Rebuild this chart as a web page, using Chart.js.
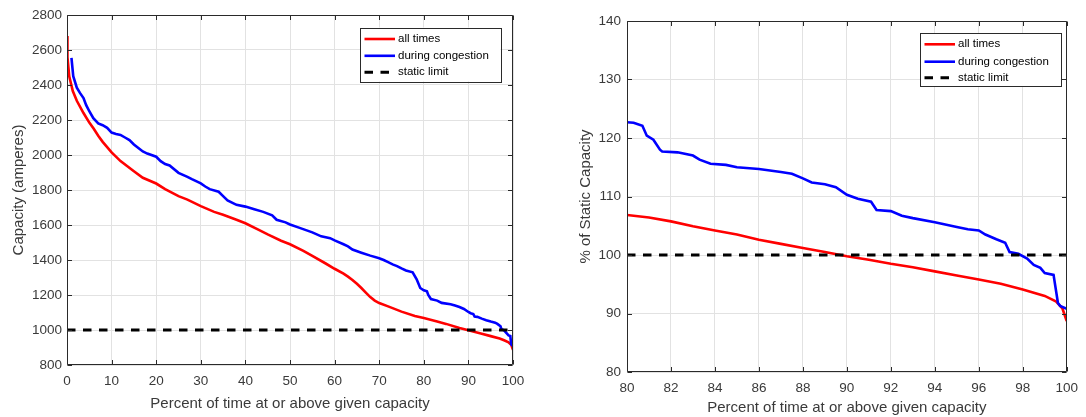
<!DOCTYPE html>
<html><head><meta charset="utf-8">
<script src="https://cdn.jsdelivr.net/npm/chart.js@4.4.1/dist/chart.umd.min.js"></script>
<style>
html,body{margin:0;padding:0;background:#fff;}
#wrap{position:relative;width:1086px;height:417px;overflow:hidden;background:#fff;}
canvas{position:absolute;top:0;}
</style></head><body>
<div id="wrap">
<canvas id="c1" width="543" height="417" style="left:0px"></canvas>
<canvas id="c2" width="543" height="417" style="left:543px"></canvas>
</div>
<script>
// ---------- DATA ----------
const seriesLabels = ['all times', 'during congestion', 'static limit'];

// Left chart: capacity in amperes vs percent of time
const leftAllX = [0,0.1,0.5,1.3,2.2,3.7,5,6,7,8,9,10,12,15,17,20,22,25,27,30,33,35,38,40,43,45,48,50,53,55,58,60,62,63,64,65,66,67,68,69,70,72,75,78,80,83,85,88,90,93,95,97,98,99,99.6,100];
const leftAllY = [2680,2560,2450,2365,2310,2240,2185,2150,2110,2075,2045,2015,1965,1907,1870,1837,1805,1765,1745,1708,1675,1658,1630,1610,1572,1546,1510,1490,1452,1423,1380,1350,1322,1305,1286,1264,1240,1214,1188,1168,1154,1135,1105,1080,1068,1049,1035,1012,998,979,965,951,941,930,915,887];
const leftCongX = [1.0,1.4,2.2,2.9,3.7,4.3,5,5.9,7,8,9,10,11,12,13,14,15,16,17,18,20,21,22,23,25,27,28,30,31,32,34,35,36,38,40,42,44,46,47,49,50,52,55,57,59,60,62,63,64,66,68,70,71,72,73,74,75,76,77.5,78.4,79.2,80,80.7,81,81.6,83,84,86,87,88,89,90,90.5,91.1,91.4,92,93,94,95,96,96.5,97.2,97.4,98,98.5,99,99.4,99.6,100];
const leftCongY = [2555,2450,2385,2355,2325,2285,2250,2210,2180,2170,2155,2128,2120,2115,2100,2085,2060,2040,2020,2008,1990,1965,1948,1940,1898,1875,1862,1838,1820,1805,1790,1765,1740,1715,1705,1690,1675,1655,1630,1615,1603,1585,1558,1535,1525,1512,1490,1478,1460,1442,1425,1410,1400,1388,1375,1365,1352,1340,1330,1290,1240,1227,1221,1200,1177,1168,1155,1147,1140,1131,1120,1103,1096,1091,1077,1075,1065,1056,1048,1042,1035,1021,1005,998,983,969,966,918,908];
const leftStaticX = [0, 100];
const leftStaticY = [1000, 1000];
const leftXTicks = [0,10,20,30,40,50,60,70,80,90,100];
const leftYTicks = [800,1000,1200,1400,1600,1800,2000,2200,2400,2600,2800];

// Right chart: % of static capacity, zoom on 80..100 %
const rightAllX = [80,81,82,83,84,85,86,87,88,89,90,91,92,93,94,95,96,97,98,99,99.5,99.8,100];
const rightAllY = [106.85,106.4,105.75,104.9,104.2,103.5,102.6,101.9,101.2,100.5,99.8,99.2,98.5,97.9,97.2,96.5,95.8,95.1,94.1,93.0,92.1,90.9,88.7];
const rightCongX = [80,80.3,80.7,80.9,81.2,81.5,81.6,82.3,83,83.3,83.8,84.5,85,86,87,87.5,88,88.4,89,89.5,90,90.5,91.1,91.35,92,92.5,93,94,95,95.5,96,96.3,96.8,97.2,97.4,97.8,98.2,98.5,98.8,99.0,99.4,99.6,99.7,100];
const rightCongY = [122.7,122.6,122.1,120.4,119.7,118.0,117.7,117.55,117.0,116.3,115.6,115.4,115.0,114.7,114.2,113.9,113.1,112.4,112.1,111.6,110.3,109.6,109.1,107.7,107.5,106.7,106.3,105.6,104.8,104.4,104.2,103.5,102.7,102.1,100.5,100.2,99.4,98.3,97.8,96.9,96.6,91.8,91.3,90.8];
const rightStaticX = [80, 100];
const rightStaticY = [100, 100];
const rightXTicks = [80,82,84,86,88,90,92,94,96,98,100];
const rightYTicks = [80,90,100,110,120,130,140];

const xTitle = 'Percent of time at or above given capacity';
const leftYTitle = 'Capacity (amperes)';
const rightYTitle = '% of Static Capacity';

// ---------- STYLE ----------
const FONT = "'Liberation Sans', Arial, Helvetica, sans-serif";
const TXT = '#3a3a3a';
const GRID = '#e2e2e2';
const AXIS = '#2a2a2a';
const DASH = [8.5, 7.5];

const pts = (xs, ys) => xs.map((x, i) => ({x, y: ys[i]}));

const framePlugin = {
  id: 'frame',
  afterDatasetsDraw(chart) {
    const {ctx, chartArea: a, scales: {x, y}} = chart;
    ctx.save();
    ctx.strokeStyle = AXIS;
    ctx.lineWidth = 1;
    const L = Math.round(a.left) + 0.5, R = Math.round(a.right) - 0.5;
    const T = Math.round(a.top) + 0.5, B = Math.round(a.bottom) - 0.5;
    ctx.beginPath();
    ctx.rect(L, T, R - L, B - T);
    const tl = 4.5;
    x.ticks.forEach(t => {
      const p = Math.round(x.getPixelForValue(t.value)) + 0.5;
      ctx.moveTo(p, B); ctx.lineTo(p, B - tl);
      ctx.moveTo(p, T); ctx.lineTo(p, T + tl);
    });
    y.ticks.forEach(t => {
      const p = Math.round(y.getPixelForValue(t.value)) + 0.5;
      ctx.moveTo(L, p); ctx.lineTo(L + tl, p);
      ctx.moveTo(R, p); ctx.lineTo(R - tl, p);
    });
    ctx.stroke();
    ctx.restore();
  }
};

const legendPlugin = {
  id: 'mlegend',
  afterDraw(chart, args, opts) {
    const {ctx} = chart;
    const b = opts.box;
    ctx.save();
    ctx.fillStyle = '#fff';
    ctx.fillRect(b.x, b.y, b.w, b.h);
    ctx.strokeStyle = AXIS;
    ctx.lineWidth = 1;
    ctx.strokeRect(Math.round(b.x) + 0.5, Math.round(b.y) + 0.5, Math.round(b.w), Math.round(b.h));
    ctx.font = opts.fontSize + 'px ' + FONT;
    ctx.textBaseline = 'middle';
    ctx.textAlign = 'left';
    chart.data.datasets.forEach((ds, i) => {
      const yy = b.y + opts.rows[i];
      ctx.beginPath();
      ctx.strokeStyle = ds.borderColor;
      ctx.lineWidth = ds.borderWidth;
      ctx.setLineDash(ds.borderDash || []);
      ctx.moveTo(b.x + 4.5, yy);
      ctx.lineTo(b.x + 35, yy);
      ctx.stroke();
      ctx.setLineDash([]);
      ctx.fillStyle = '#000';
      ctx.fillText(ds.label, b.x + 38, yy);
    });
    ctx.restore();
  }
};

function makeChart(id, cfg) {
  const W = 543, H = 417;
  const ca = cfg.area;
  return new Chart(document.getElementById(id), {
    type: 'line',
    data: {
      datasets: [
        {label: seriesLabels[0], data: pts(cfg.allX, cfg.allY), borderColor: '#ff0000', borderWidth: 2.6, order: 2},
        {label: seriesLabels[1], data: pts(cfg.congX, cfg.congY), borderColor: '#0000ff', borderWidth: 2.6, order: 1},
        {label: seriesLabels[2], data: pts(cfg.staticX, cfg.staticY), borderColor: '#000000', borderWidth: 3, borderDash: DASH, order: 0}
      ]
    },
    options: {
      responsive: false,
      animation: false,
      devicePixelRatio: 1,
      elements: {point: {radius: 0, hoverRadius: 0}, line: {tension: 0, fill: false, borderCapStyle: 'butt'}},
      layout: {padding: {left: 0, top: ca.top, right: W - ca.right, bottom: 0}},
      plugins: {
        legend: {display: false},
        tooltip: {enabled: false},
        mlegend: cfg.legend
      },
      scales: {
        x: {
          type: 'linear', min: cfg.xTicks[0], max: cfg.xTicks[cfg.xTicks.length - 1],
          afterBuildTicks: s => { s.ticks = cfg.xTicks.map(v => ({value: v})); },
          afterFit: s => { s.height = H - ca.bottom; },
          grid: {color: GRID, drawTicks: false, lineWidth: 1},
          border: {display: false},
          ticks: {font: {family: FONT, size: 13.5}, color: TXT, padding: cfg.xTickPad, maxRotation: 0, autoSkip: false, callback: v => String(v)},
          title: {display: true, text: xTitle, font: {family: FONT, size: 15}, color: TXT, padding: {top: 0, bottom: cfg.xTitlePad}}
        },
        y: {
          type: 'linear', min: cfg.yTicks[0], max: cfg.yTicks[cfg.yTicks.length - 1],
          afterBuildTicks: s => { s.ticks = cfg.yTicks.map(v => ({value: v})); },
          afterFit: s => { s.width = ca.left; },
          grid: {color: GRID, drawTicks: false, lineWidth: 1},
          border: {display: false},
          ticks: {font: {family: FONT, size: 13.5}, color: TXT, padding: cfg.yTickPad, autoSkip: false, callback: v => String(v)},
          title: {display: true, text: cfg.yTitle, font: {family: FONT, size: 15}, color: TXT, padding: {top: cfg.yTitlePad, bottom: 0}}
        }
      }
    },
    plugins: [framePlugin, legendPlugin]
  });
}

makeChart('c1', {
  allX: leftAllX, allY: leftAllY, congX: leftCongX, congY: leftCongY, staticX: leftStaticX, staticY: leftStaticY,
  xTicks: leftXTicks, yTicks: leftYTicks, yTitle: leftYTitle,
  area: {left: 67, right: 513, top: 15, bottom: 365},
  xTickPad: 8.6, xTitlePad: 4.5, yTickPad: 5, yTitlePad: 9.9,
  legend: {box: {x: 360, y: 27.5, w: 140.5, h: 54}, rows: [11.5, 28.3, 44.8], fontSize: 11.5}
});

makeChart('c2', {
  allX: rightAllX, allY: rightAllY, congX: rightCongX, congY: rightCongY, staticX: rightStaticX, staticY: rightStaticY,
  xTicks: rightXTicks, yTicks: rightYTicks, yTitle: rightYTitle,
  area: {left: 84, right: 530, top: 21, bottom: 372},
  xTickPad: 8, xTitlePad: 0, yTickPad: 6, yTitlePad: 33.5,
  legend: {box: {x: 377, y: 33.3, w: 140.7, h: 53.4}, rows: [11, 28.4, 44.4], fontSize: 11.5}
});
</script>
</body></html>
